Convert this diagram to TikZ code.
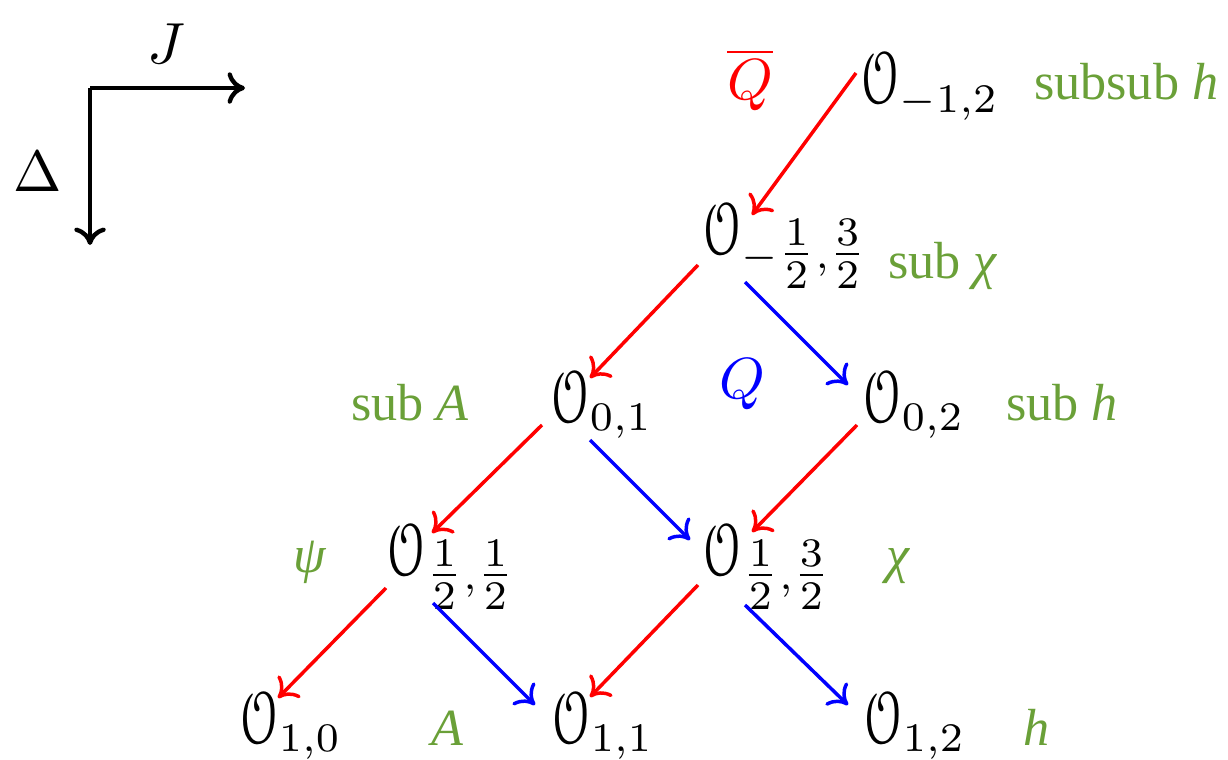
\documentclass[tikz,border=0pt]{standalone}
\usepackage{amsmath}
\usepackage{graphicx}
\usepackage{eucal}
\usepackage{fontspec}
\newfontfamily\gfont{Liberation Serif}
\usetikzlibrary{arrows.meta,calc}
\definecolor{lblgreen}{RGB}{106,160,56}
\newcommand\opO{\mathord{\scalebox{0.97}[1.3]{$\mathcal{O}$}}}
\newcommand\fracsub[1]{\smash{\raisebox{-1pt}{$\scriptstyle #1$}}}
\tikzset{
  opnode/.style={anchor=base west, inner sep=0pt, font=\fontsize{10}{12}\selectfont},
  glabel/.style={anchor=base west, inner sep=0pt, text=lblgreen, font=\gfont\fontsize{9}{11}\selectfont},
  tipstyle/.style={-{Computer Modern Rightarrow[length=3pt,width=5.4pt]}},
  redarrow/.style={tipstyle, draw=red, line width=0.6pt},
  bluearrow/.style={tipstyle, draw=blue, line width=0.6pt},
  axisarrow/.style={tipstyle, draw=black, line width=0.75pt}
}
\begin{document}
\begin{tikzpicture}[x=0.1724pt, y=-0.1724pt]
\useasboundingbox (0,0) rectangle (1228,760);
% axes
\coordinate (corner) at (90,88);
\coordinate (jend) at (245,88);
\coordinate (dend) at (90,245);
\draw[axisarrow] (corner) -- (jend);
\draw[axisarrow] (corner) -- (dend);
\node[inner sep=0pt] (J) at (166,44) {$J$};
\node[inner sep=0pt] (Delta) at (38,172) {$\Delta$};
% operators
\node[opnode] (m12) at (859,104) {$\opO_{-1,2}$};
\node[opnode] (mh) at (701,254) {$\opO_{\fracsub{-\tfrac{1}{2},\tfrac{3}{2}}}$};
\node[opnode] (a01) at (549,422) {$\opO_{0,1}$};
\node[opnode] (a02) at (861,422) {$\opO_{0,2}$};
\node[opnode] (hh1) at (385,575) {$\opO_{\fracsub{\tfrac{1}{2},\tfrac{1}{2}}}$};
\node[opnode] (hh3) at (701,575) {$\opO_{\fracsub{\tfrac{1}{2},\tfrac{3}{2}}}$};
\node[opnode] (b10) at (238,743) {$\opO_{1,0}$};
\node[opnode] (b11) at (550,743) {$\opO_{1,1}$};
\node[opnode] (b12) at (862,743) {$\opO_{1,2}$};
% charge labels
\node[inner sep=0pt, text=red] (Qbar) at (750,80) {$\overline{Q}$};
\node[inner sep=0pt, text=blue] (Q) at (742,384) {$Q$};
% green labels
\node[glabel] (l1) at (1033,100) {subsub \textit{h}};
\node[glabel] (l2) at (887,278) {sub \textit{χ}};
\node[glabel] (l3) at (350,420) {sub \textit{A}};
\node[glabel] (l4) at (1005,420) {sub \textit{h}};
\node[glabel] (l5) at (292,572) {\textit{ψ}};
\node[glabel] (l6) at (885,572) {\textit{χ}};
\node[glabel] (l7) at (430,745) {\textit{A}};
\node[glabel] (l8) at (1022,745) {\textit{h}};
% arrows
\draw[redarrow] ($(m12.base west)+(-3,-31)$) -- ($(mh.base west)+(51,-39)$);
\draw[redarrow] ($(mh.base west)+(-3,11)$) -- ($(a01.base west)+(41,-44)$);
\draw[bluearrow] ($(mh.base west)+(44,28)$) -- ($(a02.base west)+(-13,-37)$);
\draw[redarrow] ($(a01.base west)+(-7,3)$) -- ($(hh1.base west)+(47,-42)$);
\draw[bluearrow] ($(a01.base west)+(41,18)$) -- ($(hh3.base west)+(-11,-35)$);
\draw[redarrow] ($(a02.base west)+(-4,3)$) -- ($(hh3.base west)+(51,-43)$);
\draw[redarrow] ($(hh1.base west)+(1,13)$) -- ($(b10.base west)+(40,-45)$);
\draw[bluearrow] ($(hh1.base west)+(48,28)$) -- ($(b11.base west)+(-15,-38)$);
\draw[redarrow] ($(hh3.base west)+(-3,10)$) -- ($(b11.base west)+(40,-46)$);
\draw[bluearrow] ($(hh3.base west)+(44,30)$) -- ($(b12.base west)+(-14,-38)$);
\end{tikzpicture}
\end{document}
